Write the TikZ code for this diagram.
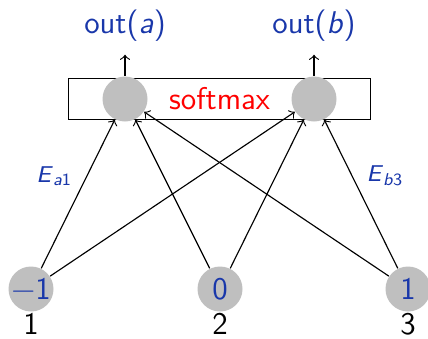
\documentclass[tikz,border=0pt]{standalone}
\usepackage{amsmath}
\definecolor{outblue}{RGB}{25,55,170}

\begin{document}
\begin{tikzpicture}[x=0.35pt, y=-0.35pt, font=\sffamily\fontsize{11}{13}\selectfont,
    unit/.style={circle, fill=black!25, minimum size=15.75pt, inner sep=0pt},
    weight/.style={text=outblue, font=\sffamily\footnotesize},
    >=to]
        \useasboundingbox (0,0) rectangle (428,338);

        % Draw softmax layer
        \node[draw, text=red, minimum width=105.7pt, minimum height=13.3pt] (box) at (219.5,99) {softmax};
        \node[unit] (a) at (125,99) {};
        \node[unit] (b) at (314,99) {};

        % Draw outputs
        \node[text=outblue] (outa) at (125,26) {out(\textit{a})};
        \node[text=outblue] (outb) at (314,26) {out(\textit{b})};
        \draw[->, shorten >=1pt] (a) -- (outa);
        \draw[->, shorten >=1pt] (b) -- (outb);

        % Draw inputs
        \node[unit, text=outblue, label={[label distance=-3pt]below:1}] (x1) at (31,289) {−1};
        \node[unit, text=outblue, label={[label distance=-3pt]below:2}] (x2) at (220,289) {0};
        \node[unit, text=outblue, label={[label distance=-3pt]below:3}] (x3) at (408,289) {1};

        % Draw edges
        \draw[->] (x1) -- node[weight, pos=0.62, left=1.5pt] {\textit{E}\textsubscript{\textit{a}1}} (a);
        \draw[->] (x1) -- (b);
        \draw[->] (x2) -- (a);
        \draw[->] (x2) -- (b);
        \draw[->] (x3) -- (a);
        \draw[->] (x3) -- node[weight, pos=0.62, right=1.5pt] {\textit{E}\textsubscript{\textit{b}3}} (b);
      \end{tikzpicture}
\end{document}
